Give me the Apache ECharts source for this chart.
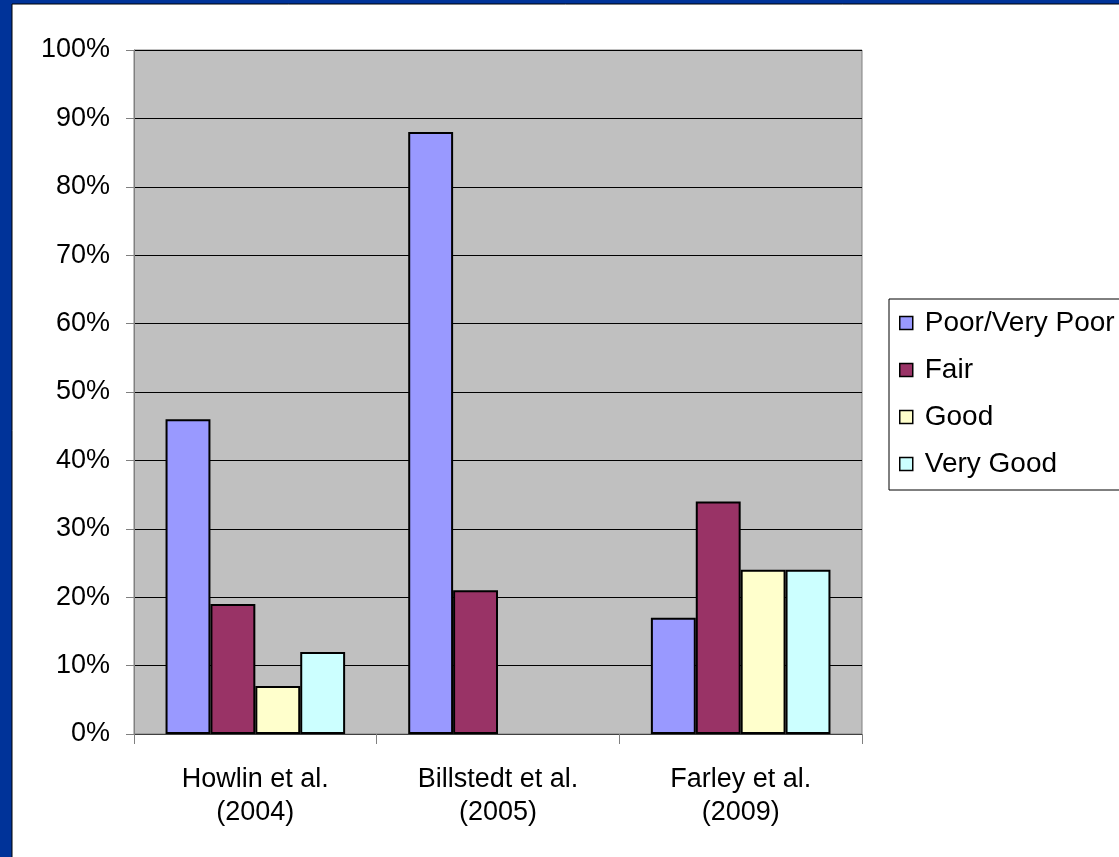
<!DOCTYPE html>
<html>
<head>
<meta charset="utf-8">
<script src="https://cdn.jsdelivr.net/npm/echarts@6/dist/echarts.min.js"></script>
<style>
  html, body { margin: 0; padding: 0; background: #ffffff; }
  #chart { width: 1119px; height: 857px; }
</style>
</head>
<body>
<div id="chart"></div>
<script>
// Studies compared and share of outcome ratings in each
const studies = ['Howlin et al.\n(2004)', 'Billstedt et al.\n(2005)', 'Farley et al.\n(2009)'];
const poorVeryPoor = [46, 88, 17];
const fair = [19, 21, 34];
const good = [7, 0, 24];
const veryGood = [12, 0, 24];
const seriesNames = ['Poor/Very Poor', 'Fair', 'Good', 'Very Good'];
const seriesColors = ['#9999FF', '#993366', '#FFFFCC', '#CCFFFF'];

const font = 'Arial, "Liberation Sans", sans-serif';
const chart = echarts.init(document.getElementById('chart'));

const values = [poorVeryPoor, fair, good, veryGood];

chart.setOption({
  animation: false,
  backgroundColor: '#ffffff',
  graphic: [
    // blue slide frame along the left and top edges
    { type: 'rect', left: 0, top: 0, shape: { width: 12, height: 857 }, style: { fill: '#003399' }, z: 100 },
    { type: 'rect', left: 0, top: 0, shape: { width: 1119, height: 4 }, style: { fill: '#003399' }, z: 100 },
    { type: 'line', shape: { x1: 12, y1: 4, x2: 12, y2: 857 }, style: { stroke: '#000', lineWidth: 1 }, z: 101 },
    { type: 'line', shape: { x1: 12, y1: 4, x2: 1119, y2: 4 }, style: { stroke: '#000', lineWidth: 1 }, z: 101 }
  ],
  grid: {
    left: 134, top: 50, width: 728, height: 684,
    show: true, backgroundColor: '#C0C0C0', borderColor: '#808080', borderWidth: 1
  },
  legend: {
    orient: 'vertical',
    left: 889, top: 299,
    padding: [10, 40, 12, 10],
    backgroundColor: '#ffffff',
    borderColor: '#000000', borderWidth: 1, borderRadius: 0,
    itemWidth: 13, itemHeight: 13, itemGap: 19,
    icon: 'rect',
    itemStyle: { borderColor: '#000', borderWidth: 1.5 },
    textStyle: { fontFamily: font, fontSize: 28, color: '#000', padding: [0, 0, 0, 7] },
    data: seriesNames
  },
  xAxis: {
    type: 'category',
    data: studies,
    axisLine: { lineStyle: { color: '#404040', width: 1 } },
    axisTick: { show: true, length: 10, lineStyle: { color: '#808080' } },
    axisLabel: { fontFamily: font, fontSize: 27, color: '#000', lineHeight: 33, margin: 29 },
    splitLine: { show: false }
  },
  yAxis: {
    type: 'value',
    min: 0, max: 100, interval: 10,
    axisLine: { show: true, lineStyle: { color: '#808080', width: 1 } },
    axisTick: { show: true, length: 8, lineStyle: { color: '#808080' } },
    axisLabel: { fontFamily: font, fontSize: 27, color: '#000', margin: 24, formatter: '{value}%' },
    splitLine: { show: true, lineStyle: { color: '#000', width: 1 } }
  },
  series: seriesNames.map((name, i) => ({
    name: name,
    type: 'bar',
    // a zero share draws no visible bar, so its outline is dropped
    data: values[i].map(v => (v === 0 ? { value: v, itemStyle: { borderWidth: 0 } } : v)),
    barGap: '0%',
    barCategoryGap: '26%',
    itemStyle: { color: seriesColors[i], borderColor: '#000', borderWidth: 2 }
  }))
});
</script>
</body>
</html>
